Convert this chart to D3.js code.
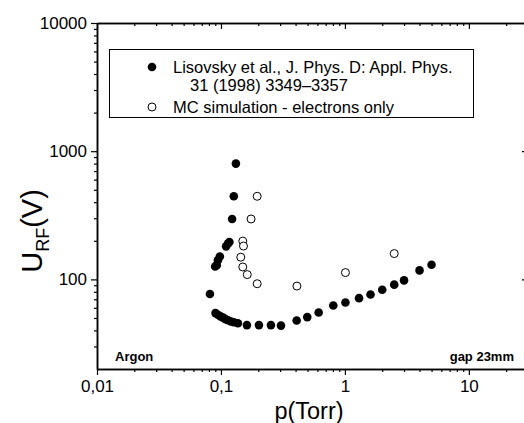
<!DOCTYPE html>
<html>
<head>
<meta charset="utf-8">
<script src="https://cdn.jsdelivr.net/npm/d3@7"></script>
<style>
  body { margin: 0; background: #fff; }
  svg { display: block; font-family: Arial, "Liberation Sans", sans-serif; }
</style>
</head>
<body>
<div id="chart"></div>
<script>
// Lisovsky et al. measurements
const litP = [0.0815, 0.0898, 0.0925, 0.0945, 0.098, 0.110, 0.114, 0.117, 0.123, 0.127, 0.132,
  0.0904, 0.0945, 0.0991, 0.1038, 0.1088, 0.114, 0.1203, 0.127, 0.137,
  0.162, 0.2025, 0.253, 0.305, 0.408, 0.497, 0.614, 0.806, 1.01, 1.30, 1.61, 2.0, 2.5, 3.0, 4.0, 5.0];
const litU = [77, 126, 129, 141, 151, 181, 190, 196, 296, 445, 800,
  54.6, 53, 51.5, 50.3, 49, 48, 47, 46.3, 45.5,
  44, 44, 44, 43.6, 47.8, 50.8, 55.2, 62.6, 66.1, 71.4, 76.3, 83.1, 91, 98.2, 117.5, 130];

// MC simulation, electrons only
const mcP = [0.196, 0.175, 0.150, 0.152, 0.1445, 0.150, 0.163, 0.196, 0.41, 1.01, 2.5];
const mcU = [445, 296, 199, 182, 149, 125, 109, 92.5, 88.7, 113, 159];

const xMajor = [0.01, 0.1, 1, 10];
const xMajorLabels = ["0,01", "0,1", "1", "10"];
const yMajor = [100, 1000, 10000];
const yMajorLabels = ["100", "1000", "10000"];

const legendLabels = ["Lisovsky et al., J. Phys. D: Appl. Phys.", "31 (1998) 3349\u20133357", "MC simulation - electrons only"];

const width = 524, height = 423;
const plotL = 97, plotR = 528, plotT = 23, plotB = 369;

const svg = d3.select("#chart").append("svg")
  .attr("width", width)
  .attr("height", height);

const x = d3.scaleLog().domain([0.01, 30]).range([plotL, plotR]);
const y = d3.scaleLog().domain([20, 10000]).range([plotB, plotT]);

function minors(domain) {
  const out = [];
  for (let e = Math.floor(Math.log10(domain[0])); e <= Math.ceil(Math.log10(domain[1])); e++) {
    for (let k = 2; k <= 9; k++) {
      const v = k * Math.pow(10, e);
      if (v > domain[0] && v < domain[1]) out.push(v);
    }
  }
  return out;
}
const xMinor = minors(x.domain());
const yMinor = minors(y.domain());

function styleAxis(g) {
  g.select(".domain").attr("stroke", "#000").attr("stroke-width", 1.5);
  g.selectAll(".tick line").attr("stroke", "#000").attr("stroke-width", 1.2);
  g.selectAll(".tick text").attr("fill", "#000").attr("font-size", 17);
}

// bottom
svg.append("g").attr("transform", `translate(0,${plotB})`)
  .call(d3.axisBottom(x).tickValues(xMinor).tickSize(3).tickFormat("").tickSizeOuter(0))
  .call(styleAxis);
svg.append("g").attr("transform", `translate(0,${plotB})`)
  .call(d3.axisBottom(x).tickValues(xMajor).tickSize(6).tickPadding(5).tickSizeOuter(0)
    .tickFormat((d, i) => xMajorLabels[i]))
  .call(styleAxis);

// top (ticks inward)
svg.append("g").attr("transform", `translate(0,${plotT})`)
  .call(d3.axisBottom(x).tickValues(xMinor).tickSize(3).tickFormat("").tickSizeOuter(0))
  .call(styleAxis);
svg.append("g").attr("transform", `translate(0,${plotT})`)
  .call(d3.axisBottom(x).tickValues(xMajor).tickSize(6).tickFormat("").tickSizeOuter(0))
  .call(styleAxis);

// left
svg.append("g").attr("transform", `translate(${plotL},0)`)
  .call(d3.axisLeft(y).tickValues(yMinor).tickSize(3).tickFormat("").tickSizeOuter(0))
  .call(styleAxis);
svg.append("g").attr("transform", `translate(${plotL},0)`)
  .call(d3.axisLeft(y).tickValues(yMajor).tickSize(6).tickPadding(4).tickSizeOuter(0)
    .tickFormat((d, i) => yMajorLabels[i]))
  .call(styleAxis);

// right (ticks inward)
svg.append("g").attr("transform", `translate(${plotR},0)`)
  .call(d3.axisLeft(y).tickValues(yMinor).tickSize(3).tickFormat("").tickSizeOuter(0))
  .call(styleAxis);
svg.append("g").attr("transform", `translate(${plotR},0)`)
  .call(d3.axisLeft(y).tickValues(yMajor).tickSize(6).tickFormat("").tickSizeOuter(0))
  .call(styleAxis);

// axis titles
svg.append("text")
  .attr("x", 309).attr("y", 418.5)
  .attr("text-anchor", "middle")
  .attr("font-size", 23.5)
  .text("p(Torr)");

const yTitle = svg.append("text")
  .attr("transform", "translate(42,231) rotate(-90)")
  .attr("text-anchor", "middle")
  .attr("font-size", 29);
yTitle.append("tspan").text("U");
yTitle.append("tspan").attr("font-size", 18).attr("dy", 7).text("RF");
yTitle.append("tspan").attr("dy", -7).text("(V)");

// data
const litData = litP.map((p, i) => ({ p, u: litU[i] }));
const mcData = mcP.map((p, i) => ({ p, u: mcU[i] }));

svg.append("g").selectAll("circle")
  .data(litData)
  .join("circle")
  .attr("cx", (d) => x(d.p))
  .attr("cy", (d) => y(d.u))
  .attr("r", 4.3)
  .attr("fill", "#000");

svg.append("g").selectAll("circle")
  .data(mcData)
  .join("circle")
  .attr("cx", (d) => x(d.p))
  .attr("cy", (d) => y(d.u))
  .attr("r", 4)
  .attr("fill", "#fff")
  .attr("stroke", "#000")
  .attr("stroke-width", 1);

// legend
const legend = svg.append("g");
legend.append("rect")
  .attr("x", 109.5).attr("y", 49.5)
  .attr("width", 364).attr("height", 68)
  .attr("fill", "#fff")
  .attr("stroke", "#000")
  .attr("stroke-width", 1);
legend.append("circle").attr("cx", 152).attr("cy", 67).attr("r", 4.3).attr("fill", "#000");
legend.append("circle").attr("cx", 152).attr("cy", 107).attr("r", 4)
  .attr("fill", "#fff").attr("stroke", "#000");
legend.append("text").attr("x", 173).attr("y", 72.5).attr("font-size", 16.5).text(legendLabels[0]);
legend.append("text").attr("x", 190).attr("y", 91).attr("font-size", 16.5).text(legendLabels[1]);
legend.append("text").attr("x", 173).attr("y", 112.5).attr("font-size", 16.5).text(legendLabels[2]);

// annotations
svg.append("text").attr("x", 115).attr("y", 361)
  .attr("font-size", 13).attr("font-weight", "bold").text("Argon");
svg.append("text").attr("x", 514).attr("y", 361)
  .attr("text-anchor", "end")
  .attr("font-size", 13).attr("font-weight", "bold").text("gap 23mm");
</script>
</body>
</html>
